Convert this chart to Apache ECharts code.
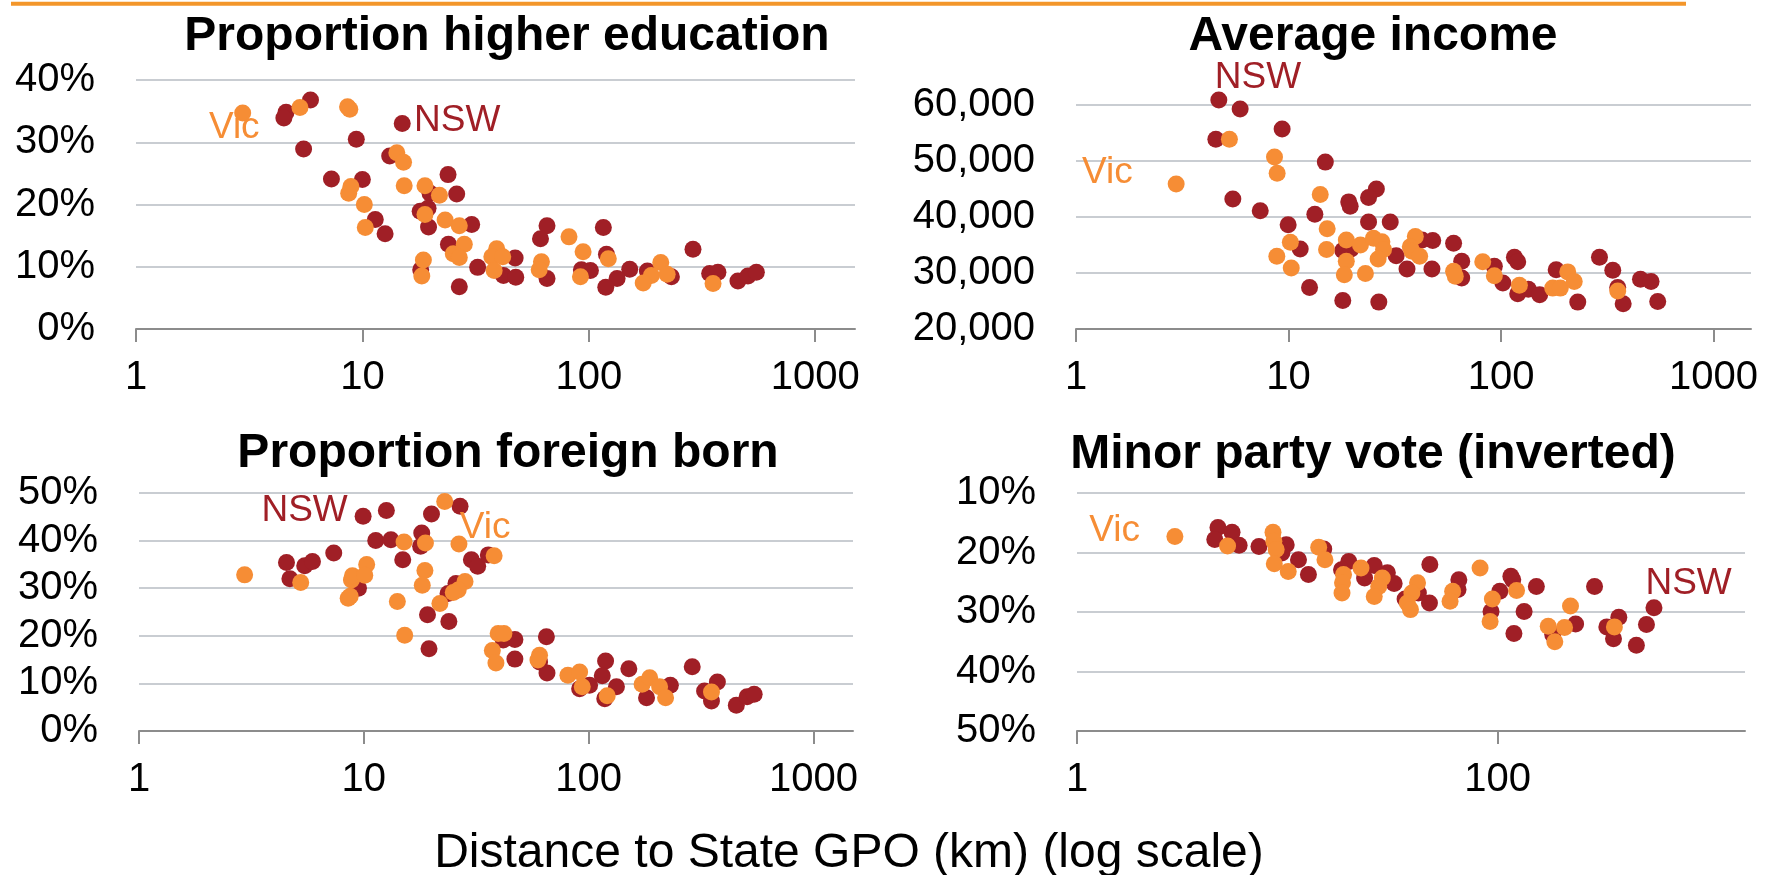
<!DOCTYPE html>
<html>
<head>
<meta charset="utf-8">
<script src="https://cdn.jsdelivr.net/npm/echarts@6/dist/echarts.min.js"></script>
<style>html,body{margin:0;padding:0;background:#fff}#c{width:1766px;height:875px}</style>
</head>
<body>
<div id="c"></div>
<script>
// ---- Data: [distance to State GPO (km), value] ----
const eduNSW = [[5.9,36.8],[4.6,34.8],[4.5,33.9],[5.5,28.9],[15.0,33.0],[9.4,30.5],[13.2,27.8],[7.3,24.1],[10.0,24.0],[23.9,24.8],[19.9,21.8],[26.1,21.7],[11.4,17.6],[12.6,15.3],[18.0,18.9],[19.5,19.4],[19.6,16.4],[30.4,16.8],[24.0,13.6],[18.1,9.5],[32.3,9.9],[26.8,6.8],[42.0,8.6],[47.3,11.4],[47.6,8.3],[65.4,16.6],[61.2,14.5],[65.4,8.1],[92.8,9.5],[101.7,9.4],[116,16.3],[119.7,12.0],[151.7,9.6],[133.4,8.1],[118.9,6.7],[181.5,9.3],[231.8,8.4],[288.7,12.8],[342,8.9],[372,9.1],[456,7.7],[505,8.5],[550,9.1]];
const eduVic = [[2.96,34.7],[5.3,35.6],[8.6,35.7],[8.8,35.3],[14.2,28.3],[15.2,26.8],[15.3,23.0],[8.9,22.9],[8.7,21.8],[10.2,20.0],[10.3,16.3],[18.9,23.0],[21.9,21.5],[18.9,18.4],[23.2,17.5],[26.8,16.6],[28.2,13.6],[25.2,12.1],[26.8,11.5],[18.6,11.1],[18.3,8.5],[39.2,12.9],[37.3,11.6],[41.7,11.6],[38.2,9.4],[81.8,14.8],[94.4,12.4],[61.8,10.8],[60.4,9.5],[91.9,8.4],[122,11.3],[208,10.7],[189,8.6],[174,7.4],[222,8.8],[354,7.3]];

const incNSW = [[4.70,60900],[5.92,59300],[4.55,53900],[9.33,55700],[14.9,49800],[5.47,43200],[7.36,41100],[25.9,45000],[23.8,43500],[19.2,42700],[19.5,41900],[13.3,40500],[9.96,38600],[23.8,39100],[30.1,39100],[11.35,34300],[18.0,34000],[19.7,34300],[32.1,33100],[36.1,30700],[47.3,30700],[42.5,35900],[47.7,35800],[59.8,35300],[12.56,27400],[18.0,25100],[26.6,24800],[65.3,32100],[65.3,29100],[93.0,31200],[102,28200],[115.6,32800],[119.8,32000],[119.8,26300],[134.4,27100],[152,26100],[181.7,30600],[229.6,24800],[290.5,32800],[335.5,30500],[354,27400],[375.5,24500],[453,28900],[508,28500],[546,24900]];
const incVic = [[2.96,45900],[5.27,53900],[8.59,50700],[8.84,47800],[14.1,44000],[15.2,37900],[10.2,35500],[15.1,34200],[8.81,33000],[10.3,30900],[18.7,35900],[21.8,35000],[25.1,36200],[27.5,35600],[28.0,34200],[26.4,32500],[18.7,32100],[18.3,29700],[23.0,29900],[39.5,36500],[37.4,34700],[38.1,33900],[41.4,33000],[59.8,30300],[60.9,29400],[82,32000],[93.0,29500],[122,27800],[175,27300],[190,27300],[206,30200],[221,28500],[354,26800]];

const fbNSW = [[4.53,35.4],[4.69,32.0],[5.46,34.7],[5.91,35.6],[7.35,37.4],[9.93,45.1],[12.6,46.3],[11.3,40.0],[13.2,40.2],[9.47,30.0],[14.9,36.0],[20.0,45.6],[26.8,47.2],[18.1,41.6],[17.9,38.8],[30.1,36.0],[32.1,34.6],[35.8,37.0],[25.7,31.0],[23.7,28.9],[19.2,24.4],[23.9,23.0],[19.5,17.3],[41.7,19.1],[47.0,19.2],[47.0,15.1],[64.9,19.8],[60.5,14.5],[65.3,12.2],[91.2,8.9],[101,9.6],[119,14.7],[115,11.6],[133,9.3],[118,6.8],[151,13.1],[181,7.0],[231,9.6],[289,13.5],[328,8.4],[374,10.3],[352,6.3],[454,5.4],[507,7.2],[545,7.7]];
const fbVic = [[2.95,32.8],[5.24,31.2],[8.81,31.7],[8.9,32.6],[8.52,27.9],[8.7,28.3],[10.3,35.0],[10.1,32.7],[15.1,39.7],[14.1,27.2],[15.2,20.1],[18.8,39.5],[18.7,33.7],[18.2,30.6],[22.9,48.2],[26.5,39.3],[21.8,26.8],[28.2,31.4],[26.3,29.6],[25.0,29.1],[38.0,36.8],[39.6,20.5],[42.0,20.5],[37.3,16.9],[38.7,14.3],[60.5,15.9],[59.5,14.9],[80.9,11.7],[91.2,12.4],[93.7,9.3],[121,7.4],[173,9.8],[187,11.2],[207,9.3],[220,7.0],[352,8.2]];

const minNSW = [[4.68,15.8],[4.52,17.8],[5.46,16.6],[5.90,18.8],[7.33,19.0],[9.88,18.7],[9.42,20.1],[11.3,21.2],[12.6,23.7],[14.9,19.4],[19.6,21.5],[18.1,22.9],[23.3,24.3],[25.9,22.2],[29.9,23.4],[32.2,25.2],[36.3,27.8],[42.0,26.8],[47.6,22.0],[47.4,28.5],[65.4,24.6],[64.8,26.2],[102.4,26.5],[115.6,24.0],[118,24.6],[93.0,29.9],[133.6,29.9],[119.5,33.6],[152.8,25.7],[234.8,32.0],[288.9,25.7],[376.8,30.9],[330.5,32.5],[355.5,34.5],[456.7,35.6],[510,32.1],[553.7,29.3],[182.7,33.8]];
const minVic = [[2.92,17.3],[5.2,18.9],[8.55,16.6],[8.63,18.1],[8.85,19.5],[8.67,21.9],[10.1,23.2],[14.1,19.1],[15.1,21.2],[18.5,23.7],[18.3,25.1],[18.2,26.8],[22.4,22.6],[28.3,24.3],[27.2,25.7],[25.9,27.4],[41.6,25.1],[39.1,26.8],[37.2,28.5],[38.5,29.6],[61.1,26.5],[59.4,28.2],[82.5,22.6],[94.4,27.8],[92.1,31.6],[123,26.4],[222,29.0],[208,32.6],[174,32.4],[187,35.0],[359,32.5]];

// State name annotations: [x, y, text]
const eduNotes = [[2.12,32.8,'Vic'],[17.1,33.9,'NSW']];
const incNotes = [[1.08,48400,'Vic'],[4.55,65400,'NSW']];
const fbNotes  = [[27.0,43.3,'Vic'],[3.54,46.8,'NSW']];
const minNotes = [[1.156,15.9,'Vic'],[510,24.7,'NSW']];

const titles = ['Proportion higher education','Average income','Proportion foreign born','Minor party vote (inverted)'];
const xTickValues = [[1,10,100,1000],[1,10,100,1000],[1,10,100,1000],[1,100]];
const xAxisName = 'Distance to State GPO (km) (log scale)';

// ---- Styles ----
const FONT = '"Liberation Sans", Arial, sans-serif';
const NSW_C = '#A01F26', VIC_C = '#F68D35';
const AXIS_C = '#8C8C8C', GRID_C = '#C9CDD2';

const panels = [
  {nsw:eduNSW, vic:eduVic, notes:eduNotes, grid:{left:136,top:80,width:719,height:249},
   y:{min:0,max:40,interval:10,fmt:v=>v+'%'}, tx:507, ty:13},
  {nsw:incNSW, vic:incVic, notes:incNotes, grid:{left:1076,top:105,width:675,height:224},
   y:{min:20000,max:60000,interval:10000,fmt:v=>v.toLocaleString('en-US')}, tx:1373, ty:13},
  {nsw:fbNSW, vic:fbVic, notes:fbNotes, grid:{left:139,top:493,width:714,height:238},
   y:{min:0,max:50,interval:10,fmt:v=>v+'%'}, tx:508, ty:430},
  {nsw:minNSW, vic:minVic, notes:minNotes, grid:{left:1077,top:493,width:668,height:238},
   y:{min:10,max:50,interval:10,inverse:true,fmt:v=>v+'%'}, tx:1373, ty:431}
];

const grid=[], xAxis=[], yAxis=[], series=[], title=[];
panels.forEach((p,i)=>{
  grid.push(Object.assign({}, p.grid));
  title.push({text:titles[i], left:p.tx, top:p.ty, textAlign:'center', padding:0,
    textStyle:{fontFamily:FONT, fontSize:48, fontWeight:'bold', color:'#000'}});
  xAxis.push({type:'log', logBase:10, gridIndex:i, min:1, max:1500,
    axisLine:{show:true, onZero:false, lineStyle:{color:AXIS_C, width:2}},
    axisTick:{show:true, inside:false, length:13, customValues:xTickValues[i], lineStyle:{color:AXIS_C, width:2}},
    axisLabel:{show:true, customValues:xTickValues[i], margin:29, fontSize:40, fontFamily:FONT, color:'#000',
      formatter:v=>String(Math.round(v))},
    splitLine:{show:false}, minorTick:{show:false}, minorSplitLine:{show:false}});
  yAxis.push({type:'value', gridIndex:i, min:p.y.min, max:p.y.max, interval:p.y.interval, inverse:!!p.y.inverse,
    axisLine:{show:false}, axisTick:{show:false},
    axisLabel:{margin:41, fontSize:40, fontFamily:FONT, color:'#000', formatter:p.y.fmt},
    splitLine:{show:true, showMinLine:!!p.y.inverse, showMaxLine:!p.y.inverse, lineStyle:{color:GRID_C, width:2}}});
  series.push({type:'scatter', name:'NSW', xAxisIndex:i, yAxisIndex:i, data:p.nsw, symbolSize:17, clip:false,
    itemStyle:{color:NSW_C, opacity:1}, silent:true, z:2});
  series.push({type:'scatter', name:'Vic', xAxisIndex:i, yAxisIndex:i, data:p.vic, symbolSize:17, clip:false,
    itemStyle:{color:VIC_C, opacity:1}, silent:true, z:3});
  series.push({type:'scatter', xAxisIndex:i, yAxisIndex:i, clip:false, silent:true, z:4,
    symbolSize:2, itemStyle:{color:'rgba(255,255,255,0)'},
    data:p.notes.map(n=>({value:[n[0],n[1]], name:n[2],
      label:{show:true, position:[0,0], offset:[0,4], align:'left', verticalAlign:'middle', formatter:n[2],
        fontSize:37, fontFamily:FONT, color:n[2]==='NSW'?NSW_C:VIC_C, textBorderWidth:0, opacity:1}}))});
});
title.push({text:xAxisName, left:849, top:830, textAlign:'center', padding:0,
  textStyle:{fontFamily:FONT, fontSize:48, fontWeight:'normal', color:'#000'}});

const chart = echarts.init(document.getElementById('c'), null, {renderer:'canvas'});
chart.setOption({
  animation:false, backgroundColor:'#fff',
  title, grid, xAxis, yAxis, series,
  graphic:[{type:'line', shape:{x1:11,y1:3.7,x2:1686,y2:3.7}, style:{stroke:'#F3962A', lineWidth:4}, silent:true}]
});
</script>
</body>
</html>
